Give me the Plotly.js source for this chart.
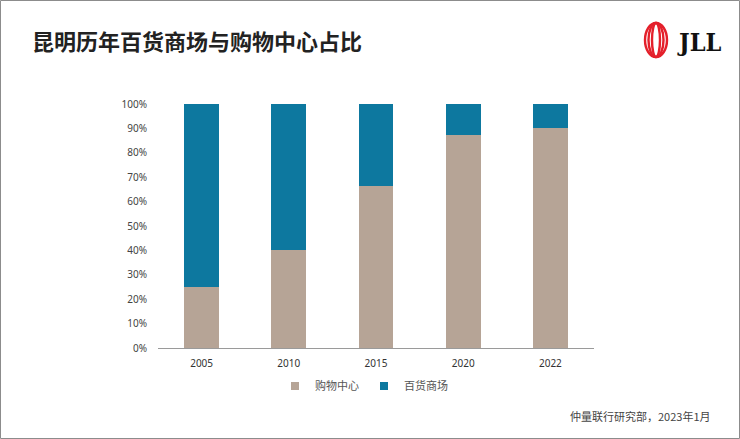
<!DOCTYPE html>
<html>
<head>
<meta charset="utf-8">
<script src="https://cdn.plot.ly/plotly-3.0.1.min.js"></script>
<style>
  html, body { margin: 0; padding: 0; background: #fff; }
  #chart { width: 740px; height: 439px; }
</style>
</head>
<body>
<div id="chart"></div>
<script>
const years = ['2005', '2010', '2015', '2020', '2022'];
const mallShare = [0.25, 0.40, 0.665, 0.875, 0.90];   // 购物中心
const deptShare = [0.75, 0.60, 0.335, 0.125, 0.10];   // 百货商场
const seriesNames = ['购物中心', '百货商场'];
const seriesColors = ['#b6a496', '#0d789f'];
const yTicks = [0, 0.1, 0.2, 0.3, 0.4, 0.5, 0.6, 0.7, 0.8, 0.9, 1.0];

const W = 740, H = 439;
const L = 158, R = 146, T = 104, B = 91;
const pw = W - L - R, ph = H - T - B;
const px = v => (v - L) / pw;
const py = v => (H - B - v) / ph;

const traces = [
  { type: 'bar', x: years, y: mallShare, name: seriesNames[0], marker: { color: seriesColors[0] }, showlegend: false, hoverinfo: 'x+y' },
  { type: 'bar', x: years, y: deptShare, name: seriesNames[1], marker: { color: seriesColors[1] }, showlegend: false, hoverinfo: 'x+y' },
  { type: 'scatter', mode: 'markers', x: [null], y: [null], name: seriesNames[0], marker: { symbol: 'square', size: 8, color: seriesColors[0] } },
  { type: 'scatter', mode: 'markers', x: [null], y: [null], name: seriesNames[1], marker: { symbol: 'square', size: 8, color: seriesColors[1] } }
];

const shapes = [
  // outer frame
  { type: 'rect', xref: 'paper', yref: 'paper', xsizemode: 'pixel', ysizemode: 'pixel',
    xanchor: 0, yanchor: 0, x0: -L + 0.5, x1: W - L - 0.5, y0: -(B - 0.5), y1: H - B - 0.5,
    line: { color: '#8c8c8c', width: 1 }, fillcolor: 'rgba(0,0,0,0)' }
];
// JLL logo rings
[22, 15, 8].forEach(w => {
  shapes.push({ type: 'circle', xref: 'paper', yref: 'paper', xsizemode: 'pixel', ysizemode: 'pixel',
    xanchor: px(656), yanchor: py(40), x0: -w / 2, x1: w / 2, y0: -17, y1: 17,
    line: { color: '#e4202b', width: 2.4 }, fillcolor: 'rgba(0,0,0,0)' });
});

const layout = {
  width: W, height: H,
  margin: { l: L, r: R, t: T, b: B, pad: 0 },
  paper_bgcolor: '#ffffff', plot_bgcolor: '#ffffff',
  barmode: 'stack', bargap: 0.6,
  font: { family: '"Noto Sans", "Noto Sans CJK SC", sans-serif', color: '#444' },
  title: {
    text: '<b>昆明历年百货商场与购物中心占比</b>',
    xref: 'container', yref: 'container', x: 32 / W, xanchor: 'left',
    y: 1 - 42 / H, yanchor: 'middle',
    font: { family: '"Noto Sans CJK SC", sans-serif', size: 22, color: '#222222' }
  },
  xaxis: {
    type: 'category', showgrid: false, zeroline: false,
    showline: true, linecolor: '#9a9a9a', linewidth: 1,
    ticks: 'outside', ticklen: 6, tickcolor: 'rgba(0,0,0,0)',
    tickfont: { size: 10, color: '#333' }
  },
  yaxis: {
    range: [0, 1], tickvals: yTicks, tickformat: '.0%',
    showgrid: false, zeroline: false, showline: false,
    ticks: 'outside', ticklen: 8, tickcolor: 'rgba(0,0,0,0)',
    tickfont: { size: 10, color: '#444' }
  },
  legend: {
    orientation: 'h', traceorder: 'normal', x: px(364), xanchor: 'center', y: py(386), yanchor: 'middle',
    font: { family: '"Noto Sans CJK SC", sans-serif', size: 11, color: '#555' },
    itemwidth: 30, tracegroupgap: 0
  },
  shapes: shapes,
  annotations: [
    { text: '<b>JLL</b>', xref: 'paper', yref: 'paper', x: px(675), y: py(42), xanchor: 'left', yanchor: 'middle',
      showarrow: false, font: { family: '"DejaVu Serif Condensed", "Liberation Serif", serif', size: 25, color: '#111' } },
    { text: '仲量联行研究部，2023年1月', xref: 'paper', yref: 'paper', x: px(713), y: py(416), xanchor: 'right', yanchor: 'middle',
      showarrow: false, font: { family: '"Noto Sans CJK SC", sans-serif', size: 11, color: '#444' } }
  ]
};

Plotly.newPlot('chart', traces, layout, { displayModeBar: false, staticPlot: true });
</script>
</body>
</html>
